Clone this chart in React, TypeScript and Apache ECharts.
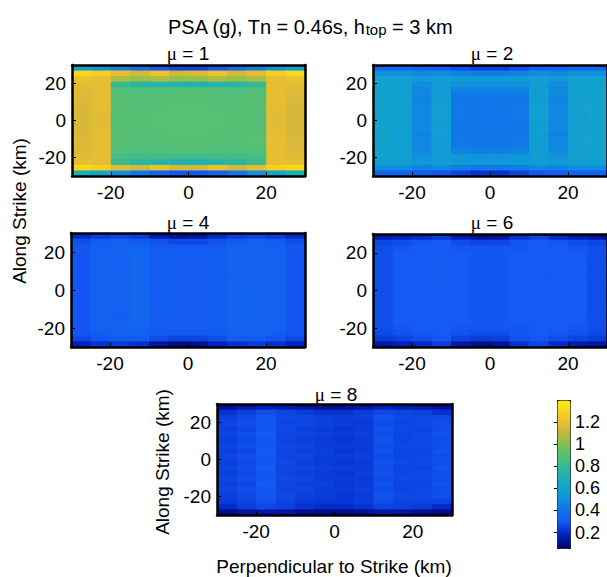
import React, { useEffect, useRef } from 'react';
import * as echarts from 'echarts';

// cell centres (km)
const xCenters = [-27.5, -22.5, -17.5, -12.5, -7.5, -2.5, 2.5, 7.5, 12.5, 17.5, 22.5, 27.5];
const yCenters = [28.5, 25.5, 22.5, 19.5, 16.5, 13.5, 10.5, 7.5, 4.5, 1.5, -1.5, -4.5, -7.5, -10.5, -13.5, -16.5, -19.5, -22.5, -25.5, -28.5];

const muValues = ['1', '2', '4', '6', '8'];
const xTicks = [-20, 0, 20];
const yTicks = [-20, 0, 20];
const colorbarTicks = [0.2, 0.4, 0.6, 0.8, 1, 1.2];
const colorMin = 0.06;
const colorMax = 1.4;

// PSA (g) fields, rows top (y=28.5) to bottom (y=-28.5)
const psaMu1 = [
  [0.58, 0.52, 0.45, 0.38, 0.30, 0.26, 0.26, 0.30, 0.38, 0.45, 0.52, 0.58],
  [1.32, 1.28, 1.20, 1.14, 1.22, 1.14, 1.16, 1.22, 1.14, 1.20, 1.28, 1.32],
  [1.22, 1.20, 1.08, 1.05, 1.08, 1.04, 1.04, 1.08, 1.05, 1.08, 1.20, 1.22],
  [1.18, 1.20, 0.80, 0.76, 0.74, 0.72, 0.72, 0.74, 0.76, 0.80, 1.20, 1.18],
  [1.17, 1.19, 0.89, 0.88, 0.89, 0.89, 0.89, 0.89, 0.88, 0.89, 1.19, 1.17],
  [1.16, 1.19, 0.90, 0.89, 0.89, 0.90, 0.90, 0.89, 0.89, 0.90, 1.19, 1.16],
  [1.16, 1.20, 0.91, 0.90, 0.90, 0.90, 0.90, 0.90, 0.90, 0.91, 1.20, 1.16],
  [1.15, 1.19, 0.91, 0.90, 0.90, 0.91, 0.91, 0.90, 0.90, 0.91, 1.19, 1.15],
  [1.15, 1.18, 0.90, 0.90, 0.91, 0.91, 0.91, 0.91, 0.90, 0.90, 1.18, 1.15],
  [1.15, 1.18, 0.90, 0.91, 0.91, 0.91, 0.91, 0.91, 0.91, 0.90, 1.18, 1.15],
  [1.15, 1.18, 0.90, 0.91, 0.91, 0.91, 0.91, 0.91, 0.91, 0.90, 1.18, 1.15],
  [1.15, 1.18, 0.90, 0.90, 0.91, 0.91, 0.91, 0.91, 0.90, 0.90, 1.18, 1.15],
  [1.15, 1.19, 0.91, 0.90, 0.90, 0.91, 0.91, 0.90, 0.90, 0.91, 1.19, 1.15],
  [1.16, 1.20, 0.91, 0.90, 0.90, 0.90, 0.90, 0.90, 0.90, 0.91, 1.20, 1.16],
  [1.16, 1.19, 0.90, 0.89, 0.89, 0.90, 0.90, 0.89, 0.89, 0.90, 1.19, 1.16],
  [1.17, 1.19, 0.89, 0.88, 0.89, 0.89, 0.89, 0.89, 0.88, 0.89, 1.19, 1.17],
  [1.18, 1.20, 0.85, 0.84, 0.84, 0.84, 0.84, 0.84, 0.84, 0.85, 1.20, 1.18],
  [1.20, 1.20, 0.82, 0.76, 0.74, 0.72, 0.72, 0.74, 0.76, 0.82, 1.20, 1.20],
  [1.32, 1.28, 1.18, 1.14, 1.22, 1.14, 1.14, 1.22, 1.14, 1.18, 1.28, 1.32],
  [0.70, 0.62, 0.50, 0.42, 0.35, 0.30, 0.30, 0.35, 0.42, 0.50, 0.62, 0.70],
];

const psaMu2 = [
  [0.36, 0.36, 0.34, 0.32, 0.28, 0.24, 0.24, 0.28, 0.32, 0.34, 0.36, 0.36],
  [0.52, 0.52, 0.48, 0.50, 0.46, 0.44, 0.44, 0.46, 0.50, 0.48, 0.52, 0.52],
  [0.60, 0.59, 0.55, 0.58, 0.56, 0.55, 0.55, 0.56, 0.58, 0.55, 0.59, 0.60],
  [0.60, 0.58, 0.50, 0.56, 0.52, 0.51, 0.51, 0.52, 0.56, 0.50, 0.58, 0.60],
  [0.60, 0.58, 0.49, 0.57, 0.47, 0.46, 0.46, 0.47, 0.57, 0.49, 0.58, 0.60],
  [0.61, 0.59, 0.48, 0.57, 0.43, 0.42, 0.42, 0.43, 0.57, 0.48, 0.59, 0.61],
  [0.60, 0.58, 0.47, 0.56, 0.42, 0.41, 0.41, 0.42, 0.56, 0.47, 0.58, 0.60],
  [0.61, 0.59, 0.49, 0.58, 0.43, 0.42, 0.42, 0.43, 0.58, 0.49, 0.59, 0.61],
  [0.60, 0.58, 0.48, 0.57, 0.42, 0.41, 0.41, 0.42, 0.57, 0.48, 0.58, 0.60],
  [0.61, 0.59, 0.49, 0.58, 0.43, 0.42, 0.42, 0.43, 0.58, 0.49, 0.59, 0.61],
  [0.60, 0.58, 0.48, 0.57, 0.42, 0.41, 0.41, 0.42, 0.57, 0.48, 0.58, 0.60],
  [0.61, 0.59, 0.49, 0.58, 0.43, 0.42, 0.42, 0.43, 0.58, 0.49, 0.59, 0.61],
  [0.60, 0.58, 0.47, 0.56, 0.42, 0.41, 0.41, 0.42, 0.56, 0.47, 0.58, 0.60],
  [0.61, 0.59, 0.48, 0.57, 0.43, 0.42, 0.42, 0.43, 0.57, 0.48, 0.59, 0.61],
  [0.60, 0.58, 0.48, 0.56, 0.43, 0.42, 0.42, 0.43, 0.56, 0.48, 0.58, 0.60],
  [0.60, 0.58, 0.49, 0.56, 0.47, 0.46, 0.46, 0.47, 0.56, 0.49, 0.58, 0.60],
  [0.60, 0.59, 0.52, 0.57, 0.54, 0.53, 0.53, 0.54, 0.57, 0.52, 0.59, 0.60],
  [0.58, 0.57, 0.54, 0.56, 0.55, 0.54, 0.54, 0.55, 0.56, 0.54, 0.57, 0.58],
  [0.50, 0.50, 0.46, 0.48, 0.45, 0.43, 0.43, 0.45, 0.48, 0.46, 0.50, 0.50],
  [0.34, 0.34, 0.32, 0.30, 0.26, 0.22, 0.22, 0.26, 0.30, 0.32, 0.34, 0.34],
];

const psaMu4 = [
  [0.20, 0.24, 0.26, 0.24, 0.16, 0.12, 0.14, 0.20, 0.24, 0.26, 0.24, 0.20],
  [0.28, 0.31, 0.33, 0.32, 0.29, 0.27, 0.27, 0.29, 0.32, 0.33, 0.31, 0.28],
  [0.30, 0.33, 0.34, 0.34, 0.32, 0.31, 0.31, 0.32, 0.34, 0.34, 0.33, 0.30],
  [0.30, 0.34, 0.34, 0.36, 0.32, 0.32, 0.32, 0.32, 0.35, 0.34, 0.34, 0.30],
  [0.30, 0.34, 0.33, 0.36, 0.32, 0.32, 0.32, 0.32, 0.35, 0.34, 0.34, 0.30],
  [0.30, 0.34, 0.34, 0.36, 0.32, 0.31, 0.31, 0.32, 0.35, 0.33, 0.34, 0.30],
  [0.30, 0.34, 0.33, 0.36, 0.32, 0.32, 0.32, 0.32, 0.35, 0.34, 0.34, 0.30],
  [0.30, 0.34, 0.34, 0.36, 0.32, 0.32, 0.32, 0.32, 0.35, 0.33, 0.34, 0.30],
  [0.30, 0.34, 0.33, 0.36, 0.32, 0.31, 0.31, 0.32, 0.35, 0.34, 0.34, 0.30],
  [0.30, 0.34, 0.34, 0.36, 0.32, 0.32, 0.32, 0.32, 0.35, 0.33, 0.34, 0.30],
  [0.30, 0.34, 0.33, 0.36, 0.32, 0.32, 0.32, 0.32, 0.35, 0.34, 0.34, 0.30],
  [0.30, 0.34, 0.34, 0.36, 0.32, 0.31, 0.31, 0.32, 0.35, 0.33, 0.34, 0.30],
  [0.30, 0.34, 0.33, 0.36, 0.32, 0.32, 0.32, 0.32, 0.35, 0.34, 0.34, 0.30],
  [0.30, 0.34, 0.34, 0.36, 0.32, 0.32, 0.32, 0.32, 0.35, 0.33, 0.34, 0.30],
  [0.30, 0.34, 0.33, 0.36, 0.32, 0.31, 0.31, 0.32, 0.35, 0.34, 0.34, 0.30],
  [0.30, 0.34, 0.34, 0.36, 0.32, 0.32, 0.32, 0.32, 0.35, 0.33, 0.34, 0.30],
  [0.30, 0.34, 0.34, 0.35, 0.32, 0.32, 0.32, 0.32, 0.34, 0.34, 0.34, 0.30],
  [0.30, 0.33, 0.34, 0.34, 0.32, 0.31, 0.31, 0.32, 0.34, 0.34, 0.33, 0.30],
  [0.27, 0.30, 0.32, 0.31, 0.28, 0.26, 0.26, 0.28, 0.31, 0.32, 0.30, 0.27],
  [0.18, 0.22, 0.24, 0.22, 0.14, 0.10, 0.12, 0.18, 0.22, 0.24, 0.22, 0.18],
];

const psaMu6 = [
  [0.16, 0.18, 0.20, 0.24, 0.16, 0.12, 0.14, 0.22, 0.26, 0.20, 0.16, 0.14],
  [0.26, 0.28, 0.30, 0.31, 0.28, 0.26, 0.27, 0.30, 0.31, 0.30, 0.28, 0.26],
  [0.28, 0.30, 0.31, 0.31, 0.30, 0.30, 0.30, 0.30, 0.31, 0.31, 0.30, 0.28],
  [0.28, 0.31, 0.31, 0.31, 0.31, 0.30, 0.30, 0.31, 0.31, 0.31, 0.31, 0.28],
  [0.28, 0.31, 0.31, 0.31, 0.31, 0.30, 0.30, 0.31, 0.31, 0.31, 0.31, 0.28],
  [0.28, 0.31, 0.31, 0.32, 0.31, 0.30, 0.30, 0.31, 0.32, 0.31, 0.31, 0.28],
  [0.28, 0.31, 0.31, 0.31, 0.31, 0.30, 0.30, 0.31, 0.31, 0.31, 0.31, 0.28],
  [0.28, 0.31, 0.31, 0.32, 0.31, 0.30, 0.30, 0.31, 0.32, 0.31, 0.31, 0.28],
  [0.28, 0.31, 0.31, 0.31, 0.31, 0.30, 0.30, 0.31, 0.31, 0.31, 0.31, 0.28],
  [0.28, 0.31, 0.31, 0.32, 0.31, 0.30, 0.30, 0.31, 0.32, 0.31, 0.31, 0.28],
  [0.28, 0.31, 0.31, 0.31, 0.31, 0.30, 0.30, 0.31, 0.31, 0.31, 0.31, 0.28],
  [0.28, 0.31, 0.31, 0.32, 0.31, 0.30, 0.30, 0.31, 0.32, 0.31, 0.31, 0.28],
  [0.28, 0.31, 0.31, 0.31, 0.31, 0.30, 0.30, 0.31, 0.31, 0.31, 0.31, 0.28],
  [0.28, 0.31, 0.31, 0.32, 0.31, 0.30, 0.30, 0.31, 0.32, 0.31, 0.31, 0.28],
  [0.28, 0.31, 0.31, 0.31, 0.31, 0.30, 0.30, 0.31, 0.31, 0.31, 0.31, 0.28],
  [0.28, 0.31, 0.31, 0.31, 0.31, 0.30, 0.30, 0.31, 0.31, 0.31, 0.31, 0.28],
  [0.28, 0.30, 0.31, 0.31, 0.30, 0.30, 0.30, 0.30, 0.31, 0.31, 0.30, 0.28],
  [0.27, 0.29, 0.30, 0.31, 0.29, 0.28, 0.28, 0.30, 0.31, 0.30, 0.29, 0.27],
  [0.24, 0.26, 0.28, 0.30, 0.26, 0.24, 0.25, 0.29, 0.30, 0.28, 0.26, 0.24],
  [0.15, 0.17, 0.20, 0.24, 0.15, 0.11, 0.13, 0.22, 0.26, 0.20, 0.16, 0.14],
];

const psaMu8 = [
  [0.12, 0.15, 0.17, 0.16, 0.13, 0.12, 0.12, 0.14, 0.17, 0.16, 0.14, 0.12],
  [0.22, 0.25, 0.28, 0.26, 0.24, 0.22, 0.22, 0.24, 0.27, 0.26, 0.25, 0.22],
  [0.25, 0.27, 0.30, 0.27, 0.26, 0.25, 0.24, 0.25, 0.29, 0.27, 0.27, 0.27],
  [0.26, 0.28, 0.30, 0.26, 0.26, 0.25, 0.24, 0.24, 0.28, 0.26, 0.27, 0.28],
  [0.25, 0.27, 0.30, 0.27, 0.25, 0.24, 0.23, 0.24, 0.29, 0.27, 0.26, 0.28],
  [0.26, 0.28, 0.31, 0.26, 0.26, 0.25, 0.24, 0.25, 0.28, 0.26, 0.27, 0.29],
  [0.25, 0.27, 0.30, 0.26, 0.25, 0.24, 0.23, 0.24, 0.29, 0.26, 0.27, 0.28],
  [0.26, 0.28, 0.30, 0.27, 0.26, 0.24, 0.24, 0.24, 0.28, 0.27, 0.27, 0.28],
  [0.25, 0.27, 0.31, 0.26, 0.25, 0.25, 0.23, 0.24, 0.29, 0.26, 0.26, 0.29],
  [0.26, 0.28, 0.30, 0.26, 0.26, 0.24, 0.24, 0.25, 0.28, 0.26, 0.27, 0.28],
  [0.25, 0.27, 0.30, 0.27, 0.25, 0.24, 0.23, 0.24, 0.29, 0.27, 0.27, 0.28],
  [0.26, 0.28, 0.31, 0.26, 0.26, 0.25, 0.24, 0.24, 0.28, 0.26, 0.26, 0.29],
  [0.25, 0.27, 0.30, 0.26, 0.25, 0.24, 0.23, 0.25, 0.29, 0.26, 0.27, 0.28],
  [0.26, 0.28, 0.30, 0.27, 0.26, 0.24, 0.24, 0.24, 0.28, 0.27, 0.27, 0.28],
  [0.25, 0.27, 0.31, 0.26, 0.25, 0.25, 0.23, 0.24, 0.29, 0.26, 0.26, 0.29],
  [0.26, 0.28, 0.30, 0.26, 0.26, 0.24, 0.24, 0.25, 0.28, 0.26, 0.27, 0.28],
  [0.25, 0.27, 0.30, 0.27, 0.25, 0.24, 0.23, 0.24, 0.29, 0.27, 0.27, 0.28],
  [0.24, 0.26, 0.29, 0.26, 0.24, 0.23, 0.23, 0.24, 0.28, 0.26, 0.26, 0.26],
  [0.20, 0.24, 0.27, 0.25, 0.22, 0.20, 0.20, 0.22, 0.26, 0.25, 0.24, 0.20],
  [0.10, 0.13, 0.15, 0.14, 0.11, 0.10, 0.10, 0.12, 0.15, 0.14, 0.12, 0.10],
];

const fields = [psaMu1, psaMu2, psaMu4, psaMu6, psaMu8];

const colormap = [
  '#00006a', '#0022c0', '#1458f4', '#1078e8', '#109ad8', '#18acc0',
  '#30b898', '#58c070', '#90c048', '#dcb838', '#f8cc24', '#f8f010',
];

const SANS = '"Liberation Sans", Arial, Helvetica, sans-serif';
const SERIF = '"Liberation Serif", "DejaVu Serif", serif';

const panels = [
  { left: 72, top: 65, width: 233, height: 111, cx: 188, ty: 53 },
  { left: 373, top: 65, width: 234, height: 111, cx: 492, ty: 53 },
  { left: 71, top: 233, width: 234, height: 114, cx: 188, ty: 222 },
  { left: 373, top: 234, width: 234, height: 113, cx: 492, ty: 222 },
  { left: 217, top: 404, width: 235, height: 111, cx: 336, ty: 394 },
];

function toCells(field: number[][]) {
  const out: number[][] = [];
  field.forEach((row, i) => row.forEach((v, j) => out.push([xCenters[j], yCenters[i], v])));
  return out;
}

const DX = xCenters[1] - xCenters[0];
const DY = yCenters[0] - yCenters[1];

const frameLine = { show: true, onZero: false, lineStyle: { color: '#000', width: 2.5 } };

export default function App() {
  const ref = useRef<HTMLDivElement>(null);
  useEffect(() => {
    if (!ref.current) return;
    const chart = echarts.init(ref.current, undefined, { renderer: 'svg' });

    const grids: any[] = panels.map((p) => ({
      left: p.left, top: p.top, width: p.width, height: p.height, show: false,
    }));
    grids.push({ left: 557, top: 400, width: 13, height: 148, show: false });

    const xAxes: any[] = [];
    const yAxes: any[] = [];
    panels.forEach((_, i) => {
      xAxes.push({
        gridIndex: i, type: 'value', min: -30, max: 30, position: 'bottom', z: 10,
        axisLine: frameLine, splitLine: { show: false },
        axisTick: { show: true, inside: true, length: 4, customValues: xTicks, lineStyle: { color: '#000' } },
        axisLabel: { customValues: xTicks, fontSize: 19, color: '#000', fontFamily: SANS, margin: 7 },
      });
      xAxes.push({
        gridIndex: i, type: 'value', min: -30, max: 30, position: 'top', z: 10,
        axisLine: frameLine, splitLine: { show: false }, axisTick: { show: false }, axisLabel: { show: false },
      });
      yAxes.push({
        gridIndex: i, type: 'value', min: -30, max: 30, position: 'left', z: 10,
        axisLine: frameLine, splitLine: { show: false },
        axisTick: { show: true, inside: true, length: 4, customValues: yTicks, lineStyle: { color: '#000' } },
        axisLabel: { customValues: yTicks, fontSize: 19, color: '#000', fontFamily: SANS, margin: 6 },
      });
      yAxes.push({
        gridIndex: i, type: 'value', min: -30, max: 30, position: 'right', z: 10,
        axisLine: frameLine, splitLine: { show: false }, axisTick: { show: false }, axisLabel: { show: false },
      });
    });
    xAxes.push({ gridIndex: 5, type: 'value', show: false, min: 0, max: 1 });
    yAxes.push({
      gridIndex: 5, type: 'value', min: colorMin, max: colorMax, position: 'right', z: 10,
      axisLine: { show: false }, splitLine: { show: false },
      axisTick: { show: true, inside: true, length: 3, customValues: colorbarTicks, lineStyle: { color: '#000' } },
      axisLabel: { customValues: colorbarTicks, fontSize: 18, color: '#000', fontFamily: SANS, margin: 5, formatter: (v: number) => String(v) },
    });

    const series: any[] = fields.map((f, i) => ({
      type: 'custom',
      xAxisIndex: 2 * i, yAxisIndex: 2 * i,
      z: 1,
      clip: true,
      encode: { x: 0, y: 1 },
      data: toCells(f),
      renderItem: (params: any, api: any) => {
        const x = api.value(0);
        const y = api.value(1);
        const p1 = api.coord([x - DX / 2, y + DY / 2]);
        const p2 = api.coord([x + DX / 2, y - DY / 2]);
        return {
          type: 'rect',
          shape: { x: p1[0], y: p1[1], width: p2[0] - p1[0] + 0.8, height: p2[1] - p1[1] + 0.8 },
          style: { fill: api.visual('color') },
        };
      },
    }));

    const graphics: any[] = [
      {
        type: 'text', x: 310, y: 25,
        style: {
          text: '{a|PSA (g), Tn = 0.46s, h}{s|top}{a| = 3 km}',
          align: 'center', verticalAlign: 'middle',
          rich: {
            a: { fontSize: 20, fontFamily: SANS, fill: '#000', lineHeight: 24, verticalAlign: 'bottom' },
            s: { fontSize: 15, fontFamily: SANS, fill: '#000', lineHeight: 14, verticalAlign: 'bottom' },
          },
        },
      },
      {
        type: 'text', x: 19, y: 211, rotation: Math.PI / 2,
        style: { text: 'Along Strike (km)', fontSize: 19, fontFamily: SANS, fill: '#000', align: 'center', verticalAlign: 'middle' },
      },
      {
        type: 'text', x: 162, y: 462, rotation: Math.PI / 2,
        style: { text: 'Along Strike (km)', fontSize: 19, fontFamily: SANS, fill: '#000', align: 'center', verticalAlign: 'middle' },
      },
      {
        type: 'text', x: 334, y: 566,
        style: { text: 'Perpendicular to Strike (km)', fontSize: 19, fontFamily: SANS, fill: '#000', align: 'center', verticalAlign: 'middle' },
      },
    ];
    panels.forEach((p, i) => {
      graphics.push({
        type: 'text', x: p.cx, y: p.ty,
        style: {
          text: '{m|\u03bc}{t| = ' + muValues[i] + '}',
          align: 'center', verticalAlign: 'middle',
          rich: {
            m: { fontSize: 19, fontFamily: SERIF, fill: '#000' },
            t: { fontSize: 19, fontFamily: SANS, fill: '#000' },
          },
        },
      });
    });

    chart.setOption({
      animation: false,
      backgroundColor: '#fff',
      grid: grids,
      xAxis: xAxes,
      yAxis: yAxes,
      visualMap: {
        type: 'continuous',
        min: colorMin, max: colorMax,
        dimension: 2,
        seriesIndex: [0, 1, 2, 3, 4],
        inRange: { color: colormap },
        calculable: false,
        show: true,
        left: 557, top: 400,
        itemWidth: 13, itemHeight: 148,
        padding: 0,
        borderColor: '#000', borderWidth: 1,
        text: null,
      },
      series,
      graphic: graphics,
    });

    return () => chart.dispose();
  }, []);

  return (
    <div
      ref={ref}
      style={{ position: 'fixed', left: 0, top: 0, width: 607, height: 577, background: '#fff' }}
    />
  );
}
